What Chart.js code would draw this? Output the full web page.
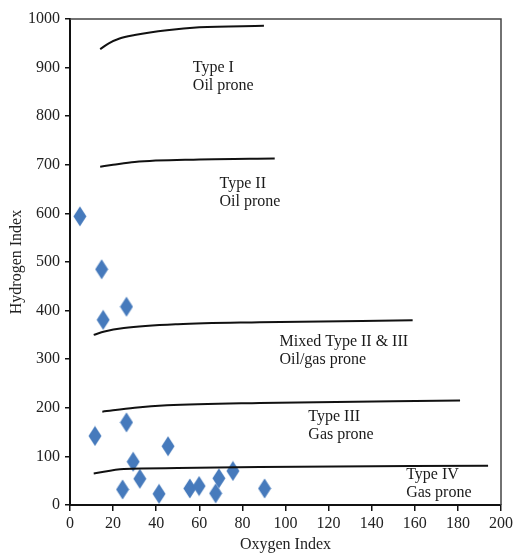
<!DOCTYPE html>
<html>
<head>
<meta charset="utf-8">
<script src="https://cdn.jsdelivr.net/npm/chart.js@4/dist/chart.umd.min.js"></script>
<style>
  html, body { margin: 0; padding: 0; background: #fff; }
  #wrap { width: 516px; height: 553px; position: relative; }
</style>
</head>
<body>
<div id="wrap"><canvas id="c" width="516" height="553"></canvas></div>
<script>
// ---- Data ----
const sampleOI = [4.6, 14.7, 15.4, 26.2, 11.6, 26.2, 45.5, 29.3, 32.4, 24.4, 41.3, 55.6, 59.9, 67.6, 69.1, 75.6, 90.3];
const sampleHI = [594, 485, 381, 408, 142, 170, 121, 89, 54, 32, 23, 34, 39, 24, 55, 70, 34];

// Boundary curves between kerogen types
const typeI_OI   = [14, 18, 23, 30, 45, 60, 90];
const typeI_HI   = [938, 950, 960, 967, 977, 983, 986];
const typeII_OI  = [14, 20, 30, 60, 95];
const typeII_HI  = [696, 700, 706, 711, 713];
const mixed_OI   = [11, 16, 25, 50, 88, 159];
const mixed_HI   = [350, 357, 364, 372, 376, 380];
const typeIII_OI = [15, 30, 45, 88, 181];
const typeIII_HI = [192, 200, 205, 210, 215];
const typeIV_OI  = [11, 25, 50, 88, 194];
const typeIV_HI  = [65, 74, 76, 78, 81];

// Zone labels
const zoneLabels = [
  ["Type I", "Oil prone"],
  ["Type II", "Oil prone"],
  ["Mixed Type II & III", "Oil/gas prone"],
  ["Type III", "Gas prone"],
  ["Type IV", "Gas prone"]
];
// Label anchor positions (in axis units: OI, HI of first line centre)
const zoneLabelPos = [[57, 899], [69.4, 660], [97.2, 336], [110.6, 182], [156, 62]];

const xTicks = [0, 20, 40, 60, 80, 100, 120, 140, 160, 180, 200];
const yTicks = [0, 100, 200, 300, 400, 500, 600, 700, 800, 900, 1000];

// ---- Build ----
const toPts = (xs, ys) => xs.map((x, i) => ({x: x, y: ys[i]}));

const diamond = document.createElement('canvas');
diamond.width = 14; diamond.height = 21;
(function () {
  const g = diamond.getContext('2d');
  g.fillStyle = 'rgb(70,122,188)';
  g.beginPath();
  g.moveTo(7, 0.5); g.lineTo(13.5, 10.5); g.lineTo(7, 20.5); g.lineTo(0.5, 10.5);
  g.closePath(); g.fill();
})();

const curveStyle = {
  showLine: true, pointRadius: 0, pointHoverRadius: 0,
  borderColor: '#111', borderWidth: 2, cubicInterpolationMode: 'monotone', fill: false
};

const SERIF = '"Liberation Serif", "Times New Roman", serif';

const framePlugin = {
  id: 'frame',
  beforeDatasetsDraw(chart) {
    const {ctx, chartArea: a} = chart;
    ctx.save();
    ctx.strokeStyle = '#444';
    ctx.lineWidth = 1.5;
    ctx.beginPath();
    ctx.moveTo(a.left, a.top); ctx.lineTo(a.right, a.top); ctx.lineTo(a.right, a.bottom);
    ctx.stroke();
    ctx.restore();
  },
  afterDatasetsDraw(chart) {
    const {ctx} = chart;
    const xs = chart.scales.x, ys = chart.scales.y;
    ctx.save();
    ctx.fillStyle = '#1a1a1a';
    ctx.font = '16px ' + SERIF;
    ctx.textAlign = 'left';
    ctx.textBaseline = 'middle';
    zoneLabels.forEach((lines, i) => {
      const px = xs.getPixelForValue(zoneLabelPos[i][0]);
      const py = ys.getPixelForValue(zoneLabelPos[i][1]);
      lines.forEach((t, j) => ctx.fillText(t, px, py + j * 18));
    });
    ctx.restore();
  }
};

new Chart(document.getElementById('c'), {
  type: 'scatter',
  data: {
    datasets: [
      Object.assign({data: toPts(typeI_OI, typeI_HI)}, curveStyle),
      Object.assign({data: toPts(typeII_OI, typeII_HI)}, curveStyle),
      Object.assign({data: toPts(mixed_OI, mixed_HI)}, curveStyle),
      Object.assign({data: toPts(typeIII_OI, typeIII_HI)}, curveStyle),
      Object.assign({data: toPts(typeIV_OI, typeIV_HI)}, curveStyle),
      {
        data: toPts(sampleOI, sampleHI),
        pointStyle: diamond, pointRadius: 8, pointHoverRadius: 8,
        backgroundColor: 'rgb(70,122,188)', borderWidth: 0
      }
    ]
  },
  options: {
    responsive: false,
    animation: false,
    events: [],
    layout: { padding: { top: 19, right: 14, left: 0, bottom: 0 } },
    plugins: { legend: { display: false }, tooltip: { enabled: false } },
    scales: {
      x: {
        type: 'linear', min: 0, max: 200,
        afterBuildTicks: s => { s.ticks = xTicks.map(v => ({value: v})); },
        afterFit: s => { s.height = 48; },
        grid: { drawOnChartArea: false, drawTicks: true, tickLength: 6, color: '#111', lineWidth: 1.5 },
        border: { display: true, color: '#111', width: 2 },
        ticks: { color: '#222', font: { family: SERIF, size: 16 }, padding: 3, maxRotation: 0,
                 callback: v => String(v) },
        title: { display: true, text: 'Oxygen Index', color: '#222',
                 font: { family: SERIF, size: 16, lineHeight: 1 }, padding: { top: 0, bottom: 0 } }
      },
      y: {
        type: 'linear', min: 0, max: 1000,
        afterBuildTicks: s => { s.ticks = yTicks.map(v => ({value: v})); },
        afterFit: s => { s.width = 70; },
        grid: { drawOnChartArea: false, drawTicks: true, tickLength: 5, color: '#111', lineWidth: 1.5 },
        border: { display: true, color: '#111', width: 2 },
        ticks: { color: '#222', font: { family: SERIF, size: 16 }, padding: 5,
                 callback: v => String(v) },
        title: { display: true, text: 'Hydrogen Index', color: '#222',
                 font: { family: SERIF, size: 16, lineHeight: 1 }, padding: { top: 9, bottom: 0 } }
      }
    }
  },
  plugins: [framePlugin]
});
</script>
</body>
</html>
